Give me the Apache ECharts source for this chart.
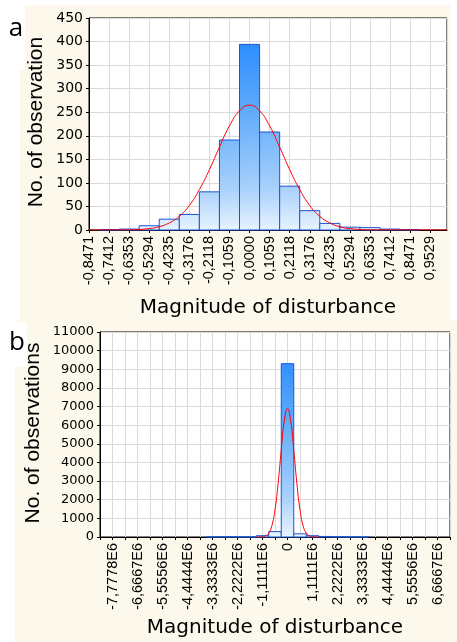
<!DOCTYPE html>
<html>
<head>
<meta charset="utf-8">
<script src="https://cdn.jsdelivr.net/npm/echarts@6/dist/echarts.min.js"></script>
<style>
html, body { margin: 0; padding: 0; background: #fff; }
#chart { width: 457px; height: 642px; }
</style>
</head>
<body>
<div id="chart"></div>
<script>
// panel a : bins, counts, fitted curve
var stepA = 0.1058824;
var binsA = [-0.8471, -0.7412, -0.6353, -0.5294, -0.4235, -0.3176, -0.2118, -0.1059, 0.0000,
	0.1059, 0.2118, 0.3176, 0.4235, 0.5294, 0.6353, 0.7412, 0.8471, 0.9529];
var countsA = [0, 1, 2, 9, 23, 33, 81, 191, 394, 208, 93, 41, 14, 6, 5, 2, 1, 0];
var tickLabelsA = ['-0,8471', '-0,7412', '-0,6353', '-0,5294', '-0,4235', '-0,3176', '-0,2118', '-0,1059', '0,0000',
	'0,1059', '0,2118', '0,3176', '0,4235', '0,5294', '0,6353', '0,7412', '0,8471', '0,9529'];
var curveXA = [-0.8471, -0.6353, -0.5294, -0.4765, -0.4235, -0.3706, -0.3176, -0.2647, -0.2118, -0.1588, -0.1059, -0.0529, 0,
	0.0529, 0.1059, 0.1588, 0.2118, 0.2647, 0.3176, 0.3706, 0.4235, 0.4765, 0.5294, 0.6353, 1.0417];
var curveYA = [0, 0.4, 3, 7, 15, 29, 52, 86, 128, 176, 221, 253, 265,
	253, 221, 176, 128, 86, 52, 29, 15, 7, 3, 0.4, 0];

// panel b : bins (x 1E6), counts, fitted curve
var stepB = 0.5555556;
var binsB = [-7.7778, -7.2222, -6.6667, -6.1111, -5.5556, -5.0000, -4.4444, -3.8889, -3.3333, -2.7778,
	-2.2222, -1.6667, -1.1111, -0.5556, 0, 0.5556, 1.1111, 1.6667, 2.2222, 2.7778,
	3.3333, 3.8889, 4.4444, 5.0000, 5.5556, 6.1111, 6.6667];
var countsB = [0, 0, 0, 0, 0, 0, 0, 0, 8, 12,
	10, 5, 70, 290, 9300, 170, 70, 30, 15, 8,
	5, 0, 0, 0, 0, 0, 0];
var tickLabelsB = ['-7,7778E6', '-6,6667E6', '-5,5556E6', '-4,4444E6', '-3,3333E6', '-2,2222E6', '-1,1111E6', '0',
	'1,1111E6', '2,2222E6', '3,3333E6', '4,4444E6', '5,5556E6', '6,6667E6'];
var curveXB = [-1.3889, -1.1111, -0.9722, -0.8333, -0.6944, -0.5556, -0.4167, -0.2778, -0.1389, 0,
	0.1389, 0.2778, 0.4167, 0.5556, 0.6944, 0.8333, 0.9722, 1.1111, 1.3889];
var curveYB = [0, 15, 60, 210, 610, 1460, 2880, 4680, 6260, 6900,
	6260, 4680, 2880, 1460, 610, 210, 60, 15, 0];

var minA = -8 * stepA, maxA = 1.0417;
var minB = -15 * stepB, maxB = 13 * stepB;

var chart = echarts.init(document.getElementById('chart'));

function pairs(xs, ys) {
	return xs.map(function (x, i) { return [x, ys[i]]; });
}

function barGradient(top, bottom) {
	return new echarts.graphic.LinearGradient(0, top, 0, bottom, [
		{ offset: 0, color: '#1a82ff' },
		{ offset: 0.45, color: '#62acfa' },
		{ offset: 0.8, color: '#a8d0fb' },
		{ offset: 1, color: '#e8f3ff' }
	], true);
}

function histItem(halfWidth, grad) {
	return function (params, api) {
		var c = api.value(0), v = api.value(1);
		if (!(v > 0)) return null;
		var p0 = api.coord([c - halfWidth, v]);
		var p1 = api.coord([c + halfWidth, 0]);
		return {
			type: 'rect',
			shape: { x: p0[0], y: p0[1], width: p1[0] - p0[0], height: p1[1] - p0[1] },
			style: { fill: grad, stroke: '#1c55d4', lineWidth: 1 }
		};
	};
}

var gridLine = { show: true, lineStyle: { color: '#dadada', width: 1 } };
var blackAxis = { show: true, onZero: false, lineStyle: { color: '#000', width: 1 } };
var numFont = 'DejaVu Sans';
var rotFont = 'Liberation Sans';

var option = {
	animation: false,
	backgroundColor: '#fff',
	graphic: [
		{ type: 'rect', z: -10, shape: { x: 20, y: 5, width: 430, height: 315 }, style: { fill: '#fdf8ec' } },
		{ type: 'rect', z: -10, shape: { x: 15, y: 320, width: 442, height: 322 }, style: { fill: '#fdf8ec' } },
		{ type: 'rect', z: -9, shape: { x: 0, y: 0, width: 25, height: 70 }, style: { fill: '#fff' } },
		{ type: 'rect', z: -9, shape: { x: 0, y: 322, width: 27, height: 45 }, style: { fill: '#fff' } },
		{ type: 'text', x: 16, y: 29, style: { text: 'a', font: '26px "Open Sans"', fill: '#000', textAlign: 'center', textVerticalAlign: 'middle' } },
		{ type: 'text', x: 17, y: 343, style: { text: 'b', font: '26px "Open Sans"', fill: '#000', textAlign: 'center', textVerticalAlign: 'middle' } },
		{ type: 'text', x: 36, y: 122, rotation: Math.PI / 2, style: { text: 'No. of observation', font: '21px "Liberation Sans"', fill: '#000', textAlign: 'center', textVerticalAlign: 'middle' } },
		{ type: 'text', x: 268, y: 308, style: { text: 'Magnitude of disturbance', font: '20px "DejaVu Sans"', fill: '#000', textAlign: 'center', textVerticalAlign: 'middle' } },
		{ type: 'text', x: 33, y: 433, rotation: Math.PI / 2, style: { text: 'No. of observations', font: '21px "Liberation Sans"', fill: '#000', textAlign: 'center', textVerticalAlign: 'middle' } },
		{ type: 'text', x: 275, y: 628, style: { text: 'Magnitude of disturbance', font: '20px "DejaVu Sans"', fill: '#000', textAlign: 'center', textVerticalAlign: 'middle' } }
	],
	grid: [
		{ left: 89, top: 18, width: 358, height: 212, show: true, backgroundColor: '#fff', borderColor: '#000', borderWidth: 1 },
		{ left: 100, top: 332, width: 350, height: 205, show: true, backgroundColor: '#fff', borderColor: '#000', borderWidth: 1 }
	],
	xAxis: [ {
		gridIndex: 0,
		type: 'value',
		min: minA,
		max: maxA,
		interval: stepA,
		axisLine: blackAxis,
		axisTick: { show: true, length: 3, lineStyle: { color: '#000' } },
		splitLine: gridLine,
		axisLabel: {
			rotate: 90,
			margin: 6,
			color: '#000',
			fontFamily: rotFont,
			fontSize: 14.5,
			showMaxLabel: false,
			formatter: function (v) {
				var i = Math.round((v - minA) / stepA);
				if (Math.abs(minA + i * stepA - v) > 1e-4) return '';
				return tickLabelsA[i] || '';
			}
		}
	}, {
		gridIndex: 1,
		type: 'value',
		min: minB,
		max: maxB,
		interval: stepB,
		axisLine: blackAxis,
		axisTick: { show: true, length: 3, lineStyle: { color: '#000' } },
		splitLine: gridLine,
		axisLabel: {
			rotate: 90,
			margin: 6,
			color: '#000',
			fontFamily: rotFont,
			fontSize: 14.5,
			formatter: function (v) {
				var i = Math.round((v - minB) / stepB);
				if (i % 2 !== 1) return '';
				return tickLabelsB[(i - 1) / 2] || '';
			}
		}
	} ],
	yAxis: [ {
		gridIndex: 0,
		type: 'value',
		min: 0,
		max: 450,
		interval: 50,
		axisLine: blackAxis,
		axisTick: { show: true, length: 3, lineStyle: { color: '#000' } },
		splitLine: gridLine,
		axisLabel: { margin: 6, color: '#000', fontFamily: numFont, fontSize: 14 }
	}, {
		gridIndex: 1,
		type: 'value',
		min: 0,
		max: 11000,
		interval: 1000,
		axisLine: blackAxis,
		axisTick: { show: true, length: 3, lineStyle: { color: '#000' } },
		splitLine: gridLine,
		axisLabel: {
			margin: 6, color: '#000', fontFamily: numFont, fontSize: 13,
			formatter: function (v) { return String(v); }
		}
	} ],
	series: [ {
		name: 'a',
		type: 'custom',
		xAxisIndex: 0,
		yAxisIndex: 0,
		renderItem: histItem(stepA / 2, barGradient(18, 230)),
		data: pairs(binsA, countsA),
		z: 2
	}, {
		name: 'a fit',
		type: 'line',
		xAxisIndex: 0,
		yAxisIndex: 0,
		smooth: 0.5,
		symbol: 'none',
		lineStyle: { color: '#ff0000', width: 1 },
		data: pairs(curveXA, curveYA),
		z: 3
	}, {
		name: 'b',
		type: 'custom',
		xAxisIndex: 1,
		yAxisIndex: 1,
		renderItem: histItem(stepB / 2, barGradient(332, 537)),
		data: pairs(binsB, countsB),
		z: 2
	}, {
		name: 'b fit',
		type: 'line',
		xAxisIndex: 1,
		yAxisIndex: 1,
		smooth: 0.5,
		symbol: 'none',
		lineStyle: { color: '#ff0000', width: 1 },
		data: pairs(curveXB, curveYB),
		z: 3
	} ]
};
chart.setOption(option);
</script>
</body>
</html>
